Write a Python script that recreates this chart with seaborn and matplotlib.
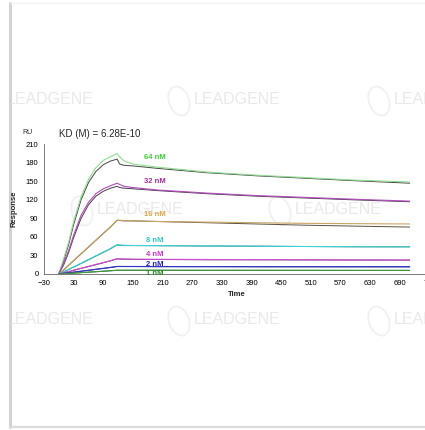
import matplotlib
matplotlib.use("Agg")
import matplotlib.pyplot as plt
from matplotlib.ticker import FixedLocator
from matplotlib.patches import Ellipse
import seaborn as sns
import numpy as np
import pandas as pd

# sensorgram data (time in s, response in RU)
t_assoc = [0, 10, 20, 30, 45, 60, 75, 90, 105, 118]
t_dissoc = [123, 132, 150, 200, 300, 400, 500, 600, 710]

fit_64 = [0, 25, 52, 85, 125, 153, 172, 184, 190, 195] + [190, 183, 178, 173, 165, 160, 156, 152, 149]
obs_64 = [0, 22, 48, 80, 120, 148, 166, 177, 183, 186] + [178, 176, 175, 171, 164, 159, 155, 151, 147]
fit_32 = [0, 18, 38, 63, 95, 116, 130, 138, 143, 147] + [145, 142, 140, 136, 131, 127, 124, 121, 118]
obs_32 = [0, 15, 35, 59, 90, 112, 126, 134, 139, 142] + [140, 139, 138, 135, 130, 126, 123, 120, 117]
fit_16 = [0, 7, 14.5, 22, 33, 44, 55, 66, 77, 87] + [87, 86.5, 86, 85, 84, 83, 82, 81.5, 81]
obs_16 = [0, 6.5, 14, 21.5, 32.5, 43.5, 54.5, 65.5, 76.5, 87] + [86.5, 86, 86, 85, 83, 81, 79, 77.5, 76]
fit_8 = [0, 3.8, 7.7, 11.6, 17.5, 23.5, 29.5, 35.5, 41.5, 47.5] + [47, 46.5, 46.2, 46, 45.5, 45, 44.5, 44.3, 44]
obs_8 = [0, 3.5, 7.3, 11.2, 17, 23, 29, 35, 41, 47] + [46.5, 46, 46, 45.8, 45.3, 45, 44.5, 44, 44]
fit_4 = [0, 2, 4.1, 6.2, 9.3, 12.4, 15.5, 18.6, 21.7, 25] + [24.6, 24.3, 24, 23.8, 23.5, 23.2, 23, 22.8, 22.6]
obs_4 = [0, 1.8, 3.8, 5.9, 9, 12, 15, 18.2, 21.3, 24.5] + [24.2, 24, 23.6, 23.5, 23, 23, 22.8, 22.6, 22.5]
fit_2 = [0, 1, 2, 3, 4.6, 6.1, 7.7, 9.2, 10.8, 12.3] + [12.3, 12.2, 12.2, 12.1, 12, 12, 11.9, 11.9, 11.8]
obs_2 = [0, 0.9, 1.9, 2.9, 4.4, 5.9, 7.4, 9, 10.5, 12] + [12, 12, 12, 11.8, 11.8, 11.6, 11.6, 11.5, 11.5]
fit_1 = [0, 0.5, 1, 1.5, 2.3, 3.1, 3.8, 4.6, 5.4, 6.1] + [6.1, 6.1, 6.1, 6.1, 6, 6, 6, 5.9, 5.9]
obs_1 = [0, 0.4, 0.9, 1.4, 2.1, 2.9, 3.6, 4.4, 5.2, 6] + [6, 6, 6, 6, 5.9, 5.9, 5.8, 5.8, 5.8]

concs = ['64 nM', '32 nM', '16 nM', '8 nM', '4 nM', '2 nM', '1 nM']
fits = [fit_64, fit_32, fit_16, fit_8, fit_4, fit_2, fit_1]
obs = [obs_64, obs_32, obs_16, obs_8, obs_4, obs_2, obs_1]
fit_colors = ['#8fdc8f', '#b04cb8', '#c9a463', '#3fd3d3', '#d54fd5', '#3434c8', '#3c9a3c']
obs_colors = ['#454545', '#4a3a4a', '#5a5040', '#1f6a6a', '#4a2a5a', '#2a2a6a', '#3a5a3a']
label_colors = ['#3ccc3c', '#9a2f9a', '#d8a848', '#2ccccc', '#cc33cc', '#2424b8', '#2a8a2a']
label_y = [188, 149, 97, 55, 31, 15, 0.5]

xticks = np.arange(-30, 751, 60)
yticks = np.arange(0, 211, 30)

sns.set_style('white')
plt.rcParams['font.family'] = ['Liberation Sans', 'DejaVu Sans']

fig = plt.figure(figsize=(4.25, 4.30), dpi=100)
fig.patch.set_facecolor('white')

# light frame around the picture
frame = fig.add_axes([0.0, 0.0, 1.0, 1.0])
frame.set_xlim(0, 425)
frame.set_ylim(430, 0)
frame.axis('off')
frame.plot([10, 10], [3, 427], color='#d2d2d2', lw=2.2)
frame.plot([10, 425], [427, 427], color='#dadada', lw=1.6)
frame.plot([10, 425], [3, 3], color='#f2f2f2', lw=0.8)

# faint watermarks (clipped inside the frame)
wmax = fig.add_axes([11 / 425, 4 / 430, 414 / 425, 422 / 430])
wmax.set_xlim(11, 425)
wmax.set_ylim(426, 4)
wmax.axis('off')
wm = [(50, 100), (237, 100), (437, 100), (140, 210), (338, 210), (50, 320), (237, 320), (437, 320)]
for x, y in wm:
    wmax.text(x, y, 'LEADGENE', fontsize=11.5, color='#e9e9e9', ha='center', va='center',
              zorder=0, clip_on=True)
    wmax.add_patch(Ellipse((x - 58, y + 1), 20, 30, angle=-20, fill=False,
                           ec='#f1f1f1', lw=1.4, clip_on=True, zorder=0))

t_all = t_assoc + t_dissoc
ax = fig.add_axes([0.1035, 0.3628, 0.907, 0.3016])
ax.patch.set_alpha(0)
for i, c in enumerate(concs):
    df = pd.DataFrame({'Time': t_all, 'fit': fits[i], 'obs': obs[i]})
    sns.lineplot(data=df, x='Time', y='obs', ax=ax, color=obs_colors[i], lw=0.7, sort=False)
    sns.lineplot(data=df, x='Time', y='fit', ax=ax, color=fit_colors[i], lw=0.8, sort=False)
    ax.text(194, label_y[i], c, color=label_colors[i], fontsize=5.5, fontweight='bold',
            ha='center', va='center')

ax.set_xlim(-30, 750)
ax.set_ylim(0, 210)
ax.xaxis.set_major_locator(FixedLocator(xticks))
ax.xaxis.set_minor_locator(FixedLocator(np.arange(-30, 751, 30)))
ax.yaxis.set_major_locator(FixedLocator(yticks))
ax.yaxis.set_minor_locator(FixedLocator(np.arange(0, 211, 15)))
ax.tick_params(axis='both', which='major', direction='inout', length=4, width=0.6,
               labelsize=5.5, colors='#555555', labelcolor='black', pad=2)
ax.tick_params(axis='both', which='minor', direction='inout', length=2.5, width=0.5,
               colors='#555555')
for s in ['top', 'right']:
    ax.spines[s].set_visible(False)
for s in ['left', 'bottom']:
    ax.spines[s].set_color('#666666')
    ax.spines[s].set_linewidth(0.6)
ax.set_xlabel('Time', fontsize=5.5, fontweight='bold', labelpad=3)
ax.set_ylabel('Response', fontsize=5.5, fontweight='bold', labelpad=6)

fig.text(27 / 425, 1 - 132 / 430, 'RU', fontsize=5, ha='center', va='center')
fig.text(59 / 425, 1 - 134 / 430, 'KD (M) = 6.28E-10', fontsize=7, ha='left', va='center')

plt.savefig('out.png', dpi=100)
